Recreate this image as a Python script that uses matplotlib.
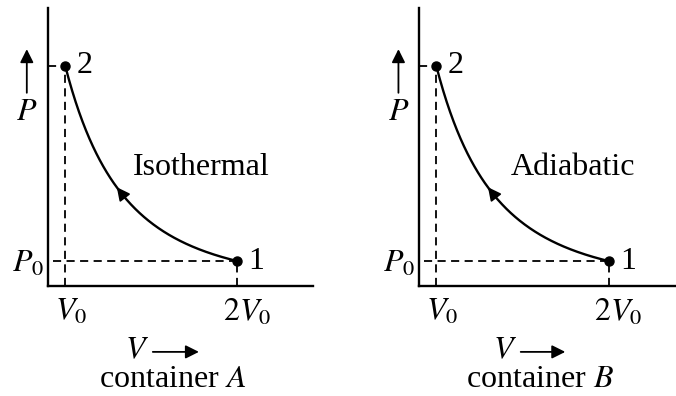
import numpy as np
import matplotlib.pyplot as plt
from matplotlib.transforms import ScaledTranslation

plt.rcParams['font.family'] = ['Liberation Serif', 'DejaVu Serif']
plt.rcParams['mathtext.fontset'] = 'stix'

# states in units of V0 and P0
v_states = [2.0, 1.0]        # state 1 -> state 2 (compression)
state_names = ['1', '2']
process_names = ['Isothermal', 'Adiabatic']
container_names = ['A', 'B']
curve_power = 3.0            # sketch steepness of the P-V curve
x_ticks = [1.0, 2.0]
x_ticklabels = ['$V_0$', '$2V_0$']
y_ticklabels = ['$P_0$']

FS = 23


def pressure(v):
    return (v_states[0] / v) ** curve_power


def draw_panel(fig, ax, process, container, xmax, text_x):
    v1, v2 = v_states
    p1, p2 = pressure(v1), pressure(v2)
    ax.set_xlim(0.90, xmax)
    ax.set_ylim(0.107, 10.07)

    # the curve from 1 to 2
    v = np.linspace(v2, v1, 200)
    ax.plot(v, pressure(v), color='black', lw=1.7)
    ax.plot([v1, v2], [p1, p2], 'o', color='black', ms=6.5)

    # direction arrow on the curve
    va, vb = 1.34, 1.29
    ax.annotate('', xy=(vb, pressure(vb)), xytext=(va, pressure(va)),
                arrowprops=dict(arrowstyle='-|>', color='black', lw=1.2,
                                mutation_scale=20))

    # dashed guides
    dash = dict(color='black', lw=1.3, ls=(0, (4.5, 3)))
    ax.plot([0.90, v2], [p2, p2], **dash)
    ax.plot([v2, v2], [0.107, p2], **dash)
    ax.plot([0.93, v1], [p1, p1], **dash)
    ax.plot([v1, v1], [0.107, p1], **dash)

    ax.annotate(state_names[1], (v2, p2), xytext=(8, 0), textcoords='offset points',
                fontsize=FS, va='center', ha='left')
    ax.annotate(state_names[0], (v1, p1), xytext=(8, 0), textcoords='offset points',
                fontsize=FS, va='center', ha='left')

    ax.text(text_x, 0.426, process, transform=ax.transAxes, fontsize=FS,
            ha='left', va='center')

    # axes styling
    for side in ['top', 'right']:
        ax.spines[side].set_visible(False)
    for side in ['left', 'bottom']:
        ax.spines[side].set_linewidth(1.7)
    ax.set_xticks(x_ticks, x_ticklabels, fontsize=FS)
    ax.set_yticks([p1], y_ticklabels, fontsize=FS)
    ax.tick_params(length=0)
    ax.tick_params(axis='x', pad=8)
    ax.tick_params(axis='y', pad=3)
    for lab, dx in zip(ax.get_xticklabels(), [4, 7]):
        lab.set_transform(lab.get_transform() +
                          ScaledTranslation(dx / 72, 0, fig.dpi_scale_trans))

    # P arrow on the left
    ax.annotate('', xy=(-0.08, 0.862), xytext=(-0.08, 0.685), xycoords='axes fraction',
                arrowprops=dict(arrowstyle='-|>', color='black', lw=1.3,
                                mutation_scale=20))
    ax.text(-0.08, 0.625, '$P$', transform=ax.transAxes, fontsize=FS,
            ha='center', va='center')

    # V arrow and caption below
    ax.text(0.335, -0.232, '$V$', transform=ax.transAxes, fontsize=FS,
            ha='center', va='center')
    ax.annotate('', xy=(0.58, -0.237), xytext=(0.385, -0.237), xycoords='axes fraction',
                arrowprops=dict(arrowstyle='-|>', color='black', lw=1.3,
                                mutation_scale=20))
    ax.text(0.47, -0.338, 'container $%s$' % container, transform=ax.transAxes,
            fontsize=FS, ha='center', va='center')


fig = plt.figure(figsize=(6.76, 3.96), dpi=100)
ax1 = fig.add_axes([48 / 676, 110 / 396, 265 / 676, 278 / 396])
ax2 = fig.add_axes([419 / 676, 110 / 396, 257 / 676, 278 / 396])

draw_panel(fig, ax1, process_names[0], container_names[0], 2.44, 0.32)
draw_panel(fig, ax2, process_names[1], container_names[1], 2.39, 0.358)

fig.savefig('out.png', dpi=100)
